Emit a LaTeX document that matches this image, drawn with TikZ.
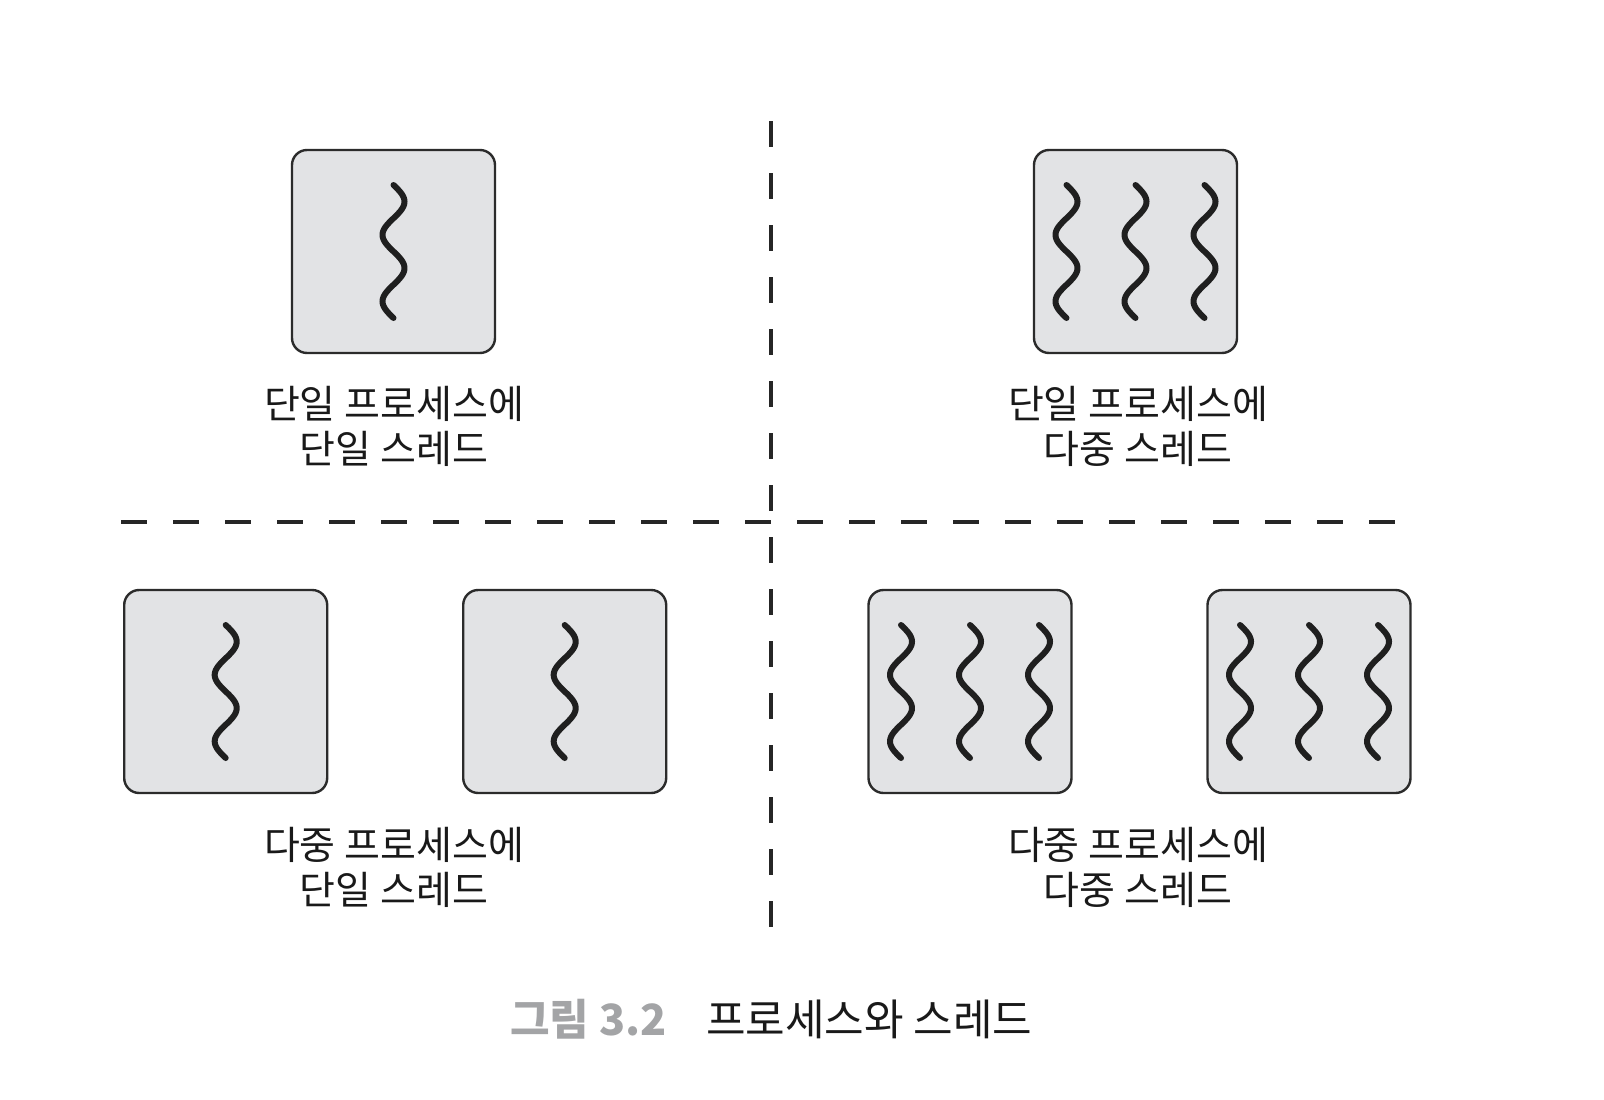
\documentclass[tikz,border=0pt]{standalone}
\usepackage{fontspec}
\setmainfont{Noto Sans CJK KR}
\usetikzlibrary{positioning,calc}

\definecolor{boxgray}{HTML}{E2E3E5}
\definecolor{edgegray}{HTML}{2B2B2B}
\definecolor{capgray}{HTML}{A3A4A6}

\tikzset{
	proc/.style={draw=edgegray,line width=2.4pt,fill=boxgray,rounded corners=15pt,
		minimum size=203pt,inner sep=0pt},
	thread/.style={line width=6pt,draw=black!88,line cap=round},
	lbl/.style={align=center,inner sep=0pt,text=black!90,
		font=\fontsize{39}{45}\selectfont},
	divider/.style={line width=3.2pt,draw=black!85,dash pattern=on 26pt off 26pt},
}

% one thread, centred on #1
\newcommand\drawthread[1]{%
	\draw[thread,shift={(#1)}] plot[domain=-90:630,samples=90,smooth]
		({11*cos(\x)},{(\x+90)*0.18472-66.5});}

\begin{document}
\begin{tikzpicture}[x=1pt,y=-1pt]
	\useasboundingbox (0,0) rectangle (1604,1100);
%%%%%%%%%%%%%%%%%%%%%%%%%%%%%%%%%%%%%%%%%%%%%%%%%%%%%%%%%%%%
	\draw[divider] (771,121) -- (771,936);
	\draw[divider] (121,522) -- (1404,522);
%%%%%%%%%%%%%%%%%%%%%%%%%%%%%%%%%%%%%%%%%%%%%%%%%%%%%%%%%%%%
	\node[proc] (p1) at (393.5,251.5) {};
	\node[proc] (p2) at (1135.5,251.5) {};
	\node[proc] (p3) at (225.7,691.5) {};
	\node[proc] (p4) at (564.7,691.5) {};
	\node[proc] (p5) at (970,691.5) {};
	\node[proc] (p6) at (1309,691.5) {};
	% single thread
	\drawthread{p1}
	\drawthread{p3}
	\drawthread{p4}
	% multi thread
	\foreach \p in {p2,p5,p6}
		\foreach \dx in {-69,0,69}
			{\drawthread{$(\p)+(\dx,0)$}}
%%%%%%%%%%%%%%%%%%%%%%%%%%%%%%%%%%%%%%%%%%%%%%%%%%%%%%%%%%%%
	\node[lbl] (l1) at (394,426) {단일 프로세스에\\단일 스레드};
	\node[lbl] (l2) at (1138,426) {단일 프로세스에\\다중 스레드};
	\node[lbl] (l3) at (394,867) {다중 프로세스에\\단일 스레드};
	\node[lbl] (l4) at (1138,867) {다중 프로세스에\\다중 스레드};
%	\node[lbl] at (771,1020) {};
	\node[inner sep=0pt,anchor=base east,text=capgray,
		font=\bfseries\fontsize{43}{48}\selectfont] (cap1) at (667,1035) {그림 3.2};
	\node[inner sep=0pt,anchor=base west,text=black!90,
		font=\fontsize{43}{48}\selectfont] (cap2) at (706,1035) {프로세스와 스레드};
\end{tikzpicture}
\end{document}
